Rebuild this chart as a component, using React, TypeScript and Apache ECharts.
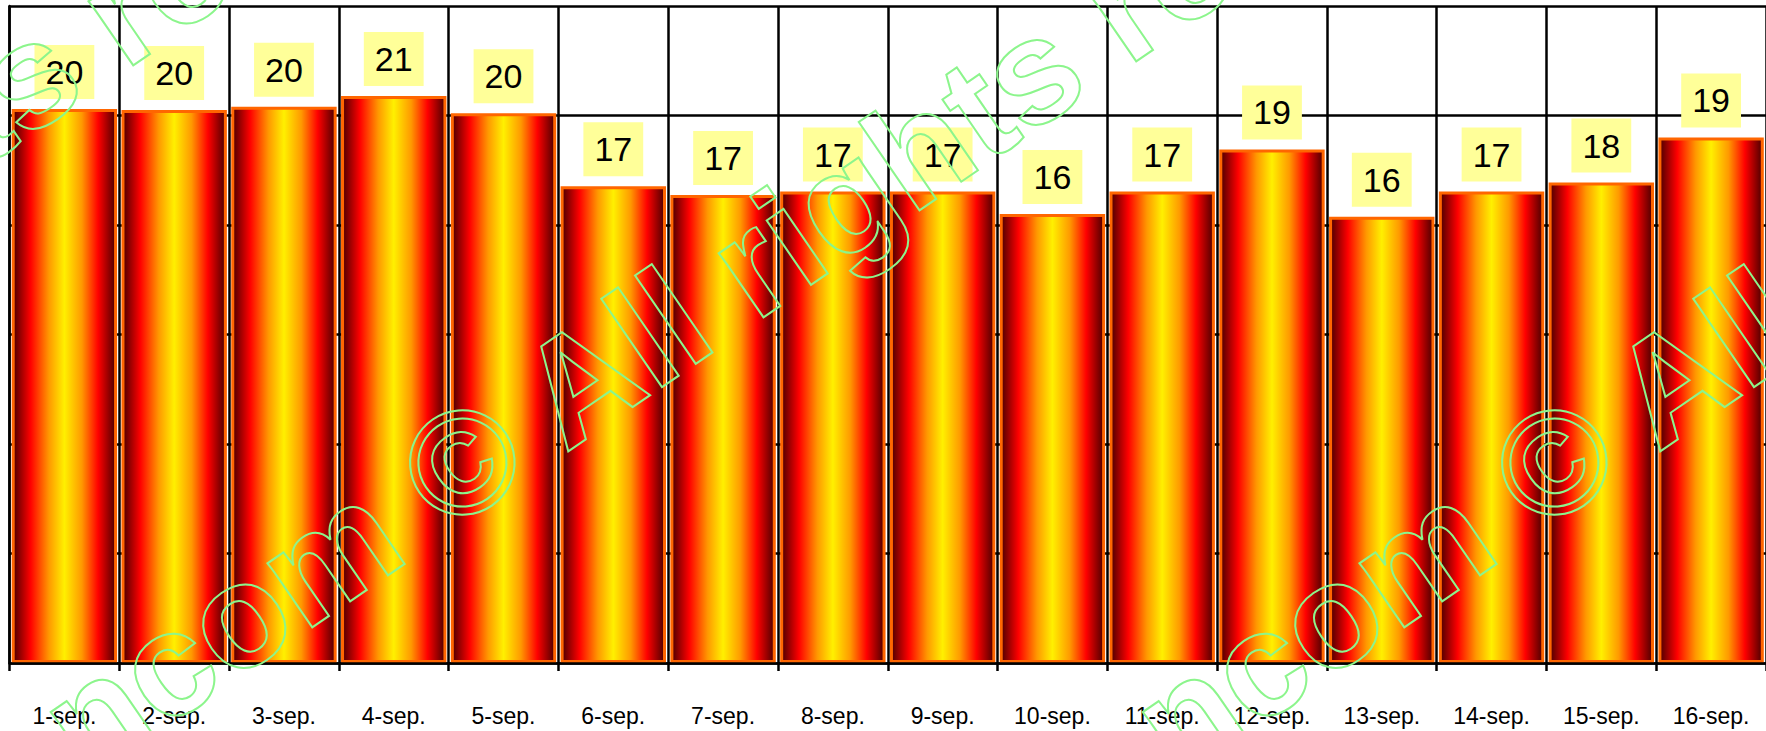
import { useEffect, useRef } from "react";
import * as echarts from "echarts";

const categories = [
  "1-sep.", "2-sep.", "3-sep.", "4-sep.", "5-sep.", "6-sep.", "7-sep.", "8-sep.",
  "9-sep.", "10-sep.", "11-sep.", "12-sep.", "13-sep.", "14-sep.", "15-sep.", "16-sep.",
];
const values = [
  20.24, 20.2, 20.32, 20.71, 20.08, 17.42, 17.1, 17.22,
  17.22, 16.4, 17.22, 18.76, 16.3, 17.22, 17.55, 19.2,
];
const yMin = 0;
const yMax = 24;
const yStep = 4;

const watermarkPrefix = "ncom ";
const watermarkText = "© All rights reserved";

const FONT = '"Liberation Sans", Arial, sans-serif';

export default function App() {
  const ref = useRef<HTMLDivElement>(null);
  useEffect(() => {
    if (!ref.current) return;
    const chart = echarts.init(ref.current, undefined, { renderer: "svg" });
    const rot = (34.5 * Math.PI) / 180;
    const wmAnchors = [
      [417, 493],
      [1509, 493],
      [-586, 497],
    ];
    const wmStyle = {
      fill: "transparent",
      stroke: "#8CF58C",
      lineWidth: 2,
      font: `bold 148px ${FONT}`,
      verticalAlign: "middle",
    };
    const graphics: any[] = [];
    wmAnchors.forEach(([x, y]) => {
      graphics.push({
        type: "text",
        x,
        y,
        rotation: rot,
        z: 100,
        silent: true,
        style: { ...wmStyle, text: watermarkText, align: "left" },
      });
      graphics.push({
        type: "text",
        x,
        y,
        rotation: rot,
        z: 100,
        silent: true,
        style: { ...wmStyle, text: watermarkPrefix, align: "right" },
      });
    });

    chart.setOption({
      animation: false,
      backgroundColor: "#ffffff",
      grid: { left: 9.5, right: -3.5, top: 6, bottom: 68, containLabel: false },
      xAxis: {
        type: "category",
        data: categories,
        z: 3,
        boundaryGap: true,
        axisLine: { show: true, lineStyle: { color: "#000", width: 2.5 } },
        axisTick: { show: true, alignWithLabel: false, length: 8, lineStyle: { color: "#000", width: 2.5 } },
        splitLine: { show: true, lineStyle: { color: "#000", width: 2.5 } },
        axisLabel: { color: "#000", fontSize: 23, fontFamily: FONT, margin: 41, interval: 0 },
      },
      yAxis: {
        type: "value",
        min: yMin,
        max: yMax,
        interval: yStep,
        axisLabel: { show: false },
        axisTick: { show: false },
        axisLine: { show: true, lineStyle: { color: "#000", width: 2.5 } },
        splitLine: { show: true, lineStyle: { color: "#000", width: 2.5 } },
      },
      series: [
        {
          type: "bar",
          data: values,
          barCategoryGap: "4%",
          itemStyle: {
            borderColor: "#FF6600",
            borderWidth: 3,
            color: new echarts.graphic.LinearGradient(0, 0, 1, 0, [
              { offset: 0, color: "#4d0000" },
              { offset: 0.17, color: "#ff0000" },
              { offset: 0.35, color: "#ff9900" },
              { offset: 0.5, color: "#fff000" },
              { offset: 0.67, color: "#ff9900" },
              { offset: 0.83, color: "#ff0000" },
              { offset: 1, color: "#4d0000" },
            ]),
          },
          label: {
            show: true,
            position: "top",
            distance: 10,
            formatter: (p: any) => String(Math.round(p.value)),
            color: "#000",
            fontSize: 34,
            lineHeight: 34,
            fontFamily: FONT,
            backgroundColor: "#FFFF99",
            padding: [10, 11],
          },
        },
      ],
      graphic: graphics,
    });
    return () => chart.dispose();
  }, []);
  return (
    <div
      ref={ref}
      style={{ position: "fixed", left: 0, top: 0, width: 1766, height: 731, background: "#fff" }}
    />
  );
}
